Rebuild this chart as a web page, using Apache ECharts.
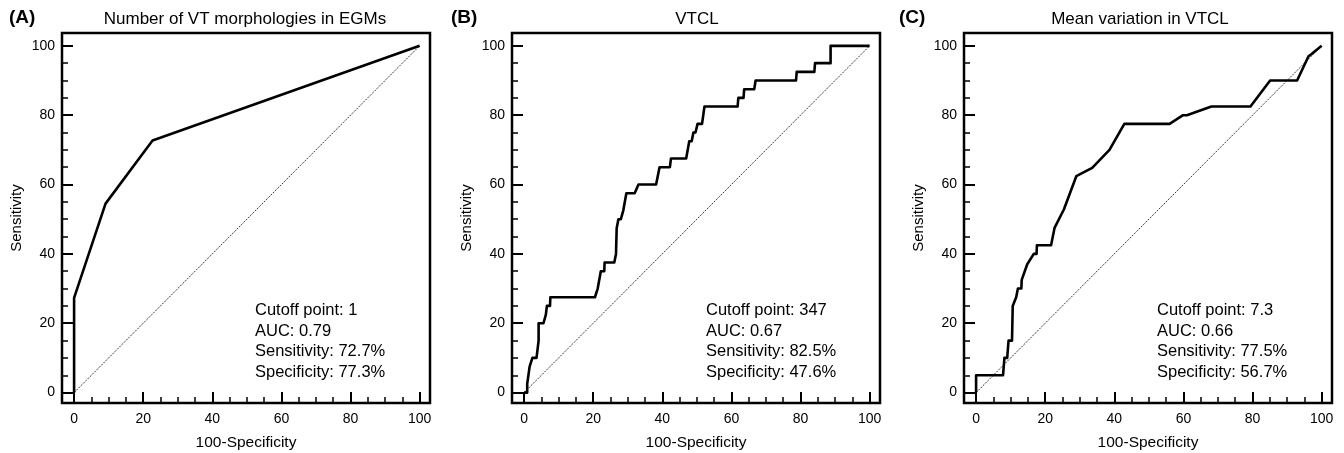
<!DOCTYPE html>
<html>
<head>
<meta charset="utf-8">
<script src="https://cdn.jsdelivr.net/npm/echarts@6/dist/echarts.min.js"></script>
<style>
  html, body { margin: 0; padding: 0; background: #fff; }
  #chart { width: 1344px; height: 453px; }
</style>
</head>
<body>
<div id="chart"></div>
<script>
// ROC points: x = 100-Specificity, y = Sensitivity
var fprA = [0, 0, 9.1, 22.7, 100];
var tprA = [0, 27.3, 54.5, 72.7, 100];

var fprB = [0, 0.9, 0.9, 1.6, 2.4, 3.6, 4.2, 4.2, 5.6, 6.3, 6.6, 7.5, 7.6, 20.5, 21.3, 22.2, 23.2, 23.3, 26.1,
  26.6, 26.8, 27.3, 28, 28.7, 29.6, 32, 33.1, 38.2, 39.2, 42.2, 42.5, 46.9, 47.8, 48.5, 49, 49.6, 50.2, 51.5,
  52.2, 61.8, 62, 63.5, 63.7, 66.6, 67, 78.7, 78.9, 84, 84.2, 88.7, 88.7, 100];
var tprB = [0, 0, 2.5, 7.5, 10, 10, 15, 20, 20, 22.5, 25, 25, 27.5, 27.5, 30, 35, 35, 37.5, 37.5,
  40, 47.5, 50, 50, 52.5, 57.5, 57.5, 60, 60, 65, 65, 67.5, 67.5, 72.5, 72.5, 75, 75, 77.5, 77.5,
  82.5, 82.5, 85, 85, 87.5, 87.5, 90, 90, 92.5, 92.5, 95, 95, 100, 100];

var fprC = [0, 0, 7.8, 8.2, 9, 9.4, 10.4, 10.6, 11.1, 11.6, 12.1, 13.1, 13.2, 14.8, 16.7, 17.5, 17.6, 21.7,
  22.7, 25.4, 29, 33.6, 38.6, 42.9, 56, 59.9, 61, 68.1, 79.4, 85.1, 92.9, 96.2, 96.9, 100];
var tprC = [0, 5, 5, 10, 10, 15, 15, 25, 25, 27.5, 30, 30, 32.5, 37, 40, 40, 42.5, 42.5,
  47.5, 52.8, 62.4, 64.8, 70, 77.5, 77.5, 80, 80, 82.5, 82.5, 90, 90, 97, 97.5, 100];

var majorTicks = [0, 20, 40, 60, 80, 100];
var minorTicks = [5, 10, 15, 25, 30, 35, 45, 50, 55, 65, 70, 75, 85, 90, 95];

var panelLetters = ['(A)', '(B)', '(C)'];
var panelTitles = ['Number of VT morphologies in EGMs', 'VTCL', 'Mean variation in VTCL'];
var statLines = [
  ['Cutoff point: 1', 'AUC: 0.79', 'Sensitivity: 72.7%', 'Specificity: 77.3%'],
  ['Cutoff point: 347', 'AUC: 0.67', 'Sensitivity: 82.5%', 'Specificity: 47.6%'],
  ['Cutoff point: 7.3', 'AUC: 0.66', 'Sensitivity: 77.5%', 'Specificity: 56.7%']
];

var curves = [[fprA, tprA], [fprB, tprB], [fprC, tprC]];

// layout
var font = 'Liberation Sans, Arial, sans-serif';
var gridLeft = [62, 512, 964];
var titleCenter = [245, 697, 1140];
var letterLeft = [9, 451, 899];
var statLeft = [255, 706, 1157];

function zip(xs, ys) {
  return xs.map(function (x, i) { return [x, ys[i]]; });
}

var grids = [], xAxes = [], yAxes = [], series = [], graphics = [];

for (var i = 0; i < 3; i++) {
  grids.push({
    left: gridLeft[i], top: 33, width: 368, height: 370,
    outerBoundsMode: 'none', containLabel: false,
    show: true, borderColor: '#000', borderWidth: 2.5, backgroundColor: 'transparent'
  });

  // major ticks + labels
  xAxes.push({
    gridIndex: i, type: 'value', min: -3.5, max: 103, position: 'bottom',
    axisLine: { show: false, onZero: false }, splitLine: { show: false },
    axisTick: { inside: true, length: 11, customValues: majorTicks, lineStyle: { color: '#000', width: 2 } },
    axisLabel: { customValues: majorTicks, margin: 9, color: '#000', fontSize: 14, fontFamily: font },
    name: '100-Specificity', nameLocation: 'middle', nameGap: 32,
    nameTextStyle: { color: '#000', fontSize: 15.5, fontFamily: font }
  });
  // minor ticks
  xAxes.push({
    gridIndex: i, type: 'value', min: -3.5, max: 103, position: 'bottom',
    axisLine: { show: false, onZero: false }, splitLine: { show: false },
    axisTick: { inside: true, length: 6, customValues: minorTicks, lineStyle: { color: '#000', width: 1.5 } },
    axisLabel: { show: false }
  });

  yAxes.push({
    gridIndex: i, type: 'value', min: -3, max: 103.7, position: 'left',
    axisLine: { show: false, onZero: false }, splitLine: { show: false },
    axisTick: { inside: true, length: 11, customValues: majorTicks, lineStyle: { color: '#000', width: 2 } },
    axisLabel: { customValues: majorTicks, margin: 7, color: '#000', fontSize: 14, fontFamily: font },
    name: 'Sensitivity', nameLocation: 'middle', nameGap: 38,
    nameTextStyle: { color: '#000', fontSize: 15, fontFamily: font }
  });
  yAxes.push({
    gridIndex: i, type: 'value', min: -3, max: 103.7, position: 'left',
    axisLine: { show: false, onZero: false }, splitLine: { show: false },
    axisTick: { inside: true, length: 6, customValues: minorTicks, lineStyle: { color: '#000', width: 1.5 } },
    axisLabel: { show: false }
  });

  // reference diagonal
  series.push({
    type: 'line', xAxisIndex: 2 * i, yAxisIndex: 2 * i,
    data: [[0, 0], [100, 100]], symbol: 'none', silent: true,
    lineStyle: { color: '#222', width: 0.9, type: [2, 1.2] }
  });
  // ROC curve
  series.push({
    type: 'line', xAxisIndex: 2 * i, yAxisIndex: 2 * i,
    data: zip(curves[i][0], curves[i][1]), symbol: 'none',
    lineStyle: { color: '#000', width: 2.6, join: 'round' }, z: 3
  });

  graphics.push({
    type: 'text', left: letterLeft[i], top: 8,
    style: { text: panelLetters[i], fill: '#000', font: 'bold 19px ' + font }
  });
  graphics.push({
    type: 'text', x: titleCenter[i], y: 19,
    style: { text: panelTitles[i], fill: '#000', font: '17px ' + font, align: 'center', verticalAlign: 'middle' }
  });
  graphics.push({
    type: 'text', x: statLeft[i], y: 300,
    style: { text: statLines[i].join('\n'), fill: '#000', font: '16.5px ' + font, lineHeight: 20.7, verticalAlign: 'top' }
  });
}

var chart = echarts.init(document.getElementById('chart'));
chart.setOption({
  animation: false,
  backgroundColor: '#fff',
  grid: grids,
  xAxis: xAxes,
  yAxis: yAxes,
  series: series,
  graphic: graphics
});
</script>
</body>
</html>
